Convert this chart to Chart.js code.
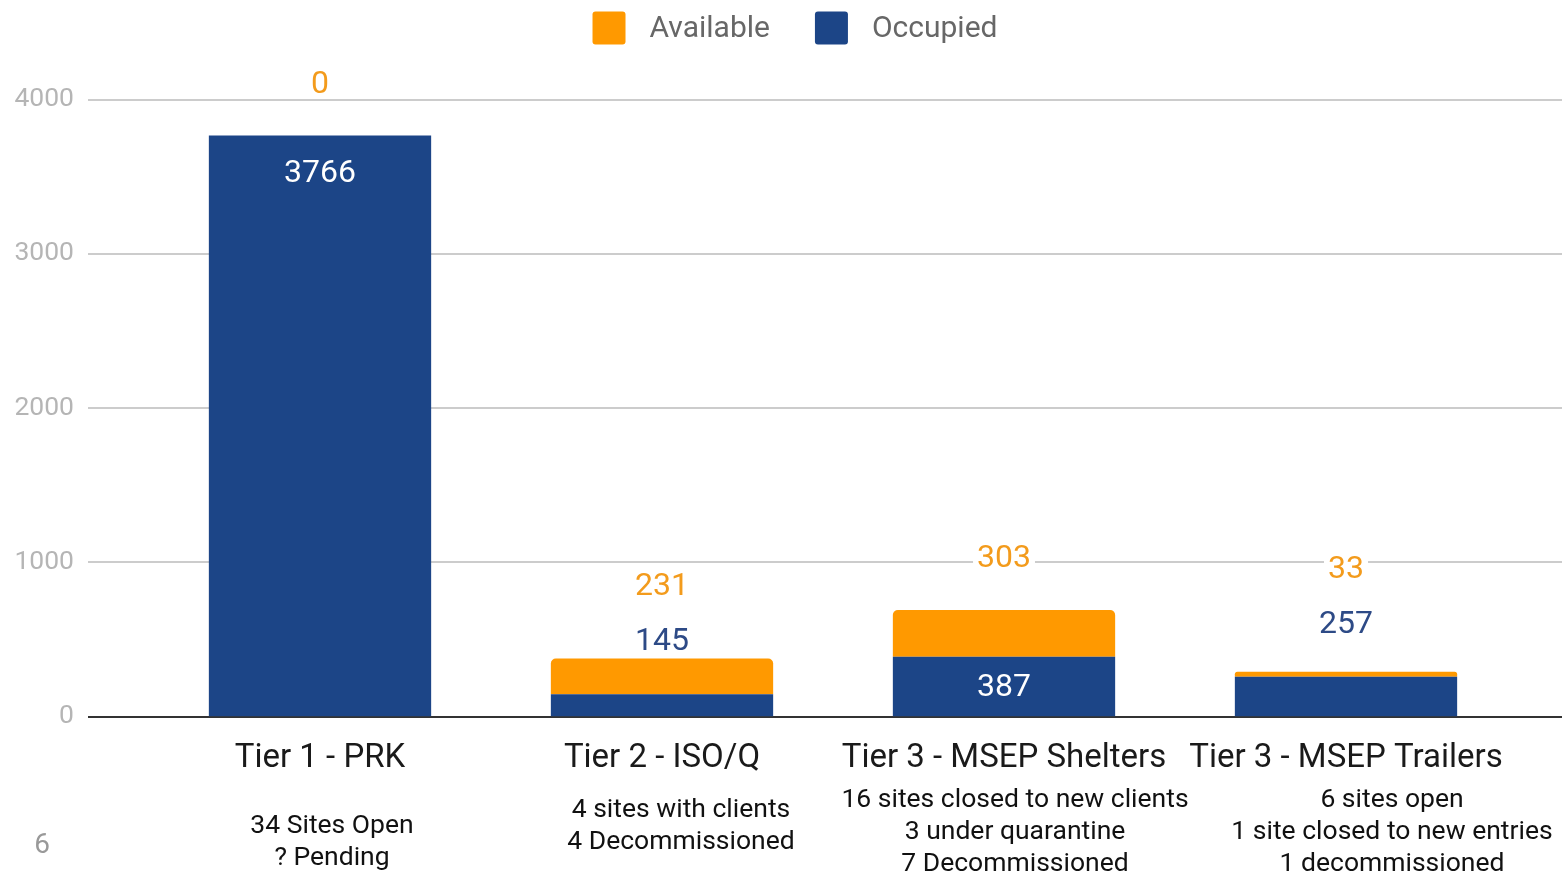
<!DOCTYPE html>
<html>
<head>
<meta charset="utf-8">
<script src="https://cdn.jsdelivr.net/npm/chart.js@4/dist/chart.umd.min.js"></script>
<style>
  html, body { margin: 0; padding: 0; background: #fff; }
  #wrap { width: 1562px; height: 874px; position: relative; }
</style>
</head>
<body>
<div id="wrap"><canvas id="chart"></canvas></div>
<script>
const categories = ['Tier 1 - PRK', 'Tier 2 - ISO/Q', 'Tier 3 - MSEP Shelters', 'Tier 3 - MSEP Trailers'];
const occupied = [3766, 145, 387, 257];
const available = [0, 231, 303, 33];
const notes = [
    ['34 Sites Open', '? Pending'],
    ['4 sites with clients', '4 Decommissioned'],
    ['16 sites closed to new clients', '3 under quarantine', '7 Decommissioned'],
    ['6 sites open', '1 site closed to new entries', '1 decommissioned']
];
const yTickValues = [0, 1000, 2000, 3000, 4000];
const pageNumber = '6';

// layout of the notes under each tier (not data)
const noteTop = [826, 810, 800, 800];
const noteShift = [12, 19, 11, 46];

const BLUE = '#1c4587';
const ORANGE = '#ff9900';
const ORANGE_TEXT = '#f39b1c';
const FONT = 'Roboto';

const gridPlugin = {
    id: 'grid',
    beforeDatasetsDraw(chart) {
        const ctx = chart.ctx;
        const y = chart.scales.y;
        ctx.save();
        yTickValues.forEach(v => {
            const py = Math.round(y.getPixelForValue(v));
            ctx.beginPath();
            ctx.moveTo(88, py);
            ctx.lineTo(chart.width, py);
            ctx.lineWidth = 2;
            ctx.strokeStyle = v === 0 ? '#333333' : '#cccccc';
            ctx.stroke();
        });
        ctx.restore();
    }
};

// legend drawn by hand so box/text spacing can follow the reference
const legendPlugin = {
    id: 'topLegend',
    afterDraw(chart) {
        const ctx = chart.ctx;
        const items = chart.data.datasets.slice().reverse();
        const box = 33, gapText = 24, gapItem = 45;
        ctx.save();
        ctx.font = '30px ' + FONT;
        ctx.textBaseline = 'middle';
        ctx.textAlign = 'left';
        const widths = items.map(d => box + gapText + ctx.measureText(d.label).width);
        const total = widths.reduce((a, b) => a + b, 0) + gapItem * (items.length - 1);
        let x = chart.width / 2 + 14 - total / 2;
        const cy = 28;
        items.forEach((d, i) => {
            ctx.fillStyle = d.backgroundColor;
            ctx.beginPath();
            ctx.roundRect(x, cy - box / 2, box, box, 3);
            ctx.fill();
            ctx.fillStyle = '#676767';
            ctx.fillText(d.label, x + box + gapText, cy + 1);
            x += widths[i] + gapItem;
        });
        ctx.restore();
    }
};

function textWithBg(ctx, text, x, y, color) {
    const w = ctx.measureText(text).width;
    ctx.fillStyle = '#ffffff';
    ctx.fillRect(x - w / 2 - 4, y - 14, w + 8, 28);
    ctx.fillStyle = color;
    ctx.fillText(text, x, y);
}

const labelPlugin = {
    id: 'labels',
    afterDatasetsDraw(chart) {
        const ctx = chart.ctx;
        const occMeta = chart.getDatasetMeta(0);
        const avMeta = chart.getDatasetMeta(1);
        ctx.save();
        ctx.font = '32px ' + FONT;
        ctx.textAlign = 'center';
        ctx.textBaseline = 'middle';
        categories.forEach((c, i) => {
            const ob = occMeta.data[i];
            const ab = avMeta.data[i];
            const segH = ob.base - ob.y;
            let avY;
            if (segH >= 50) {
                ctx.fillStyle = '#ffffff';
                ctx.fillText(String(occupied[i]), ob.x, Math.min(ob.y + 38, (ob.y + ob.base) / 2 + 1));
                avY = ab.y - 51;
            } else {
                const oy = ob.y - 52;
                ctx.fillStyle = '#2d4a86';
                ctx.fillText(String(occupied[i]), ob.x, oy);
                avY = oy - 55;
            }
            textWithBg(ctx, String(available[i]), ab.x, avY, ORANGE_TEXT);
        });

        // notes under the category labels
        ctx.font = '26.5px ' + FONT;
        ctx.fillStyle = '#111111';
        notes.forEach((lines, i) => {
            const x = occMeta.data[i].x + noteShift[i];
            lines.forEach((t, k) => ctx.fillText(t, x, noteTop[i] + k * 32));
        });

        ctx.font = '28px ' + FONT;
        ctx.fillStyle = '#999999';
        ctx.fillText(pageNumber, 42, 846);
        ctx.restore();
    }
};

new Chart(document.getElementById('chart'), {
    type: 'bar',
    data: {
        labels: categories,
        datasets: [
            { label: 'Occupied', data: occupied, backgroundColor: BLUE, borderRadius: 0 },
            { label: 'Available', data: available, backgroundColor: ORANGE, borderRadius: 5 }
        ]
    },
    options: {
        responsive: true,
        maintainAspectRatio: false,
        animation: false,
        layout: { padding: { left: 14, right: 45, top: 99.5, bottom: 97.5 } },
        datasets: { bar: { categoryPercentage: 1, barPercentage: 0.65 } },
        plugins: {
            tooltip: { enabled: false },
            legend: { display: false }
        },
        scales: {
            x: {
                stacked: true,
                grid: { display: false, drawTicks: false },
                border: { display: false },
                ticks: { color: '#1a1a1a', padding: 22, font: { family: FONT, size: 33 }, maxRotation: 0, autoSkip: false },
                afterFit(scale) { scale.height = 60; }
            },
            y: {
                stacked: true,
                min: 0,
                max: 4000,
                afterBuildTicks(scale) { scale.ticks = yTickValues.map(v => ({ value: v })); },
                grid: { display: false, drawTicks: false },
                border: { display: false },
                ticks: {
                    color: '#b5b5b5',
                    padding: 75,
                    font: { family: FONT, size: 26.5 },
                    callback: v => String(v)
                },
                afterFit(scale) { scale.width = 135; }
            }
        }
    },
    plugins: [gridPlugin, labelPlugin, legendPlugin]
});
</script>
</body>
</html>
